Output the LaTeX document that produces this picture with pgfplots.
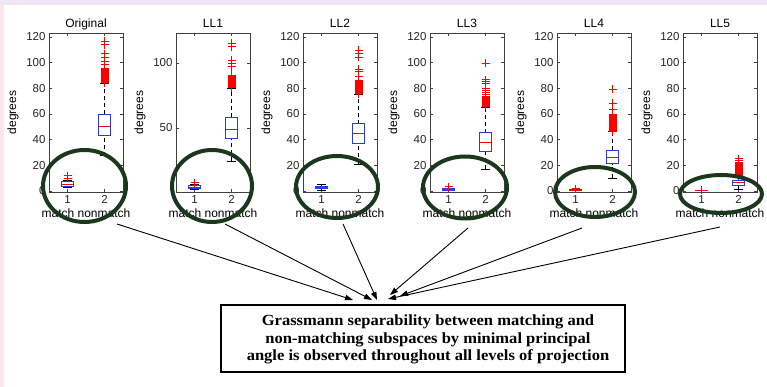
\documentclass[border=0pt]{standalone}
\usepackage{pgfplots}
\pgfplotsset{compat=1.18}
\usepgfplotslibrary{statistics}
\usetikzlibrary{arrows.meta}
\usepackage{fontspec}
\setmainfont{Liberation Sans}
\newfontfamily\serifbold{Liberation Serif}

\definecolor{boxblue}{RGB}{40,60,230}
\definecolor{ellgreen}{RGB}{28,56,28}
\definecolor{lav}{RGB}{236,230,245}
\definecolor{pinkish}{RGB}{252,230,236}

\pgfplotsset{
  mypanel/.style={
    scale only axis, width=74pt, height=159pt,
    xmin=0.5, xmax=2.5, ymin=-1, ymax=123,
    xtick={1,2}, ytick={0,20,...,120},
    tick align=inside, major tick length=3pt,
    axis line style={black!75, line width=0.5pt},
    every tick/.style={black!75},
    tick label style={font=\fontsize{11.5}{12}\selectfont, text=black!85},
    /pgf/number format/assume math mode=true,
    title style={font=\fontsize{12}{13}\selectfont, at={(0.5,1)}, anchor=base, yshift=-1pt},
    xlabel={match nonmatch},
    xlabel style={font=\fontsize{12}{13}\selectfont, at={(axis description cs:0.5,0)}, anchor=center, yshift=-21pt},
    ylabel={degrees},
    ylabel style={font=\fontsize{12}{13}\selectfont, at={(axis description cs:-0.486,0.5)}, anchor=center},
    boxplot/draw direction=y,
    boxplot/box extend=0.32,
    boxplot/whisker extend=0.24,
    boxplot/draw/box/.code={%
      \draw[boxblue, line width=0.8pt] (boxplot box cs:\pgfplotsboxplotvalue{lower quartile},0) rectangle (boxplot box cs:\pgfplotsboxplotvalue{upper quartile},1);
    },
    boxplot/draw/median/.code={%
      \draw[red, line width=0.7pt] (boxplot box cs:\pgfplotsboxplotvalue{median},0) -- (boxplot box cs:\pgfplotsboxplotvalue{median},1);
    },
    boxplot/draw/lower whisker/.code={%
      \draw[black, line width=0.6pt] (boxplot whisker cs:\pgfplotsboxplotvalue{lower whisker},0) -- (boxplot whisker cs:\pgfplotsboxplotvalue{lower whisker},1);
      \draw[black, line width=0.7pt, dash pattern=on 4pt off 3pt] (boxplot cs:\pgfplotsboxplotvalue{lower whisker}) -- (boxplot cs:\pgfplotsboxplotvalue{lower quartile});
    },
    boxplot/draw/upper whisker/.code={%
      \draw[black, line width=0.6pt] (boxplot whisker cs:\pgfplotsboxplotvalue{upper whisker},0) -- (boxplot whisker cs:\pgfplotsboxplotvalue{upper whisker},1);
      \draw[black, line width=0.7pt, dash pattern=on 4pt off 3pt] (boxplot cs:\pgfplotsboxplotvalue{upper quartile}) -- (boxplot cs:\pgfplotsboxplotvalue{upper whisker});
    },
  },
  outl/.style={color=boxblue, mark=+, mark size=4pt, mark options={red, line width=0.7pt, solid}},
}

\begin{document}
\begin{tikzpicture}
\useasboundingbox (0pt,0pt) rectangle (767pt,387pt);
\fill[white] (0pt,0pt) rectangle (767pt,387pt);
\fill[lav] (0pt,382pt) rectangle (767pt,387pt);
\fill[pinkish] (0pt,0pt) rectangle (4pt,382pt);

% ---------- Original ----------
\begin{axis}[mypanel, at={(49pt,195pt)}, anchor=south west, title={Original}]
\addplot[outl, boxplot prepared={draw position=1, lower whisker=2.6, lower quartile=3.6, median=5, upper quartile=7, upper whisker=8.5}]
  table[row sep=\\, y index=0] {data\\ 9.6\\ 11.6\\};
\addplot[outl, boxplot prepared={draw position=2, lower whisker=27.3, lower quartile=43.4, median=50.5, upper quartile=59.6, upper whisker=83.5}]
  table[row sep=\\, y index=0] {data\\ 84.2\\ 84.8\\ 85.4\\ 86.0\\ 86.6\\ 87.2\\ 87.8\\ 88.4\\ 89.0\\ 89.6\\ 90.2\\ 90.8\\ 91.4\\ 92.0\\ 92.6\\ 93.2\\ 93.8\\ 94.4\\ 95.0\\ 95.6\\ 98.5\\ 101\\ 104\\ 107\\ 114\\ 116.4\\};
\end{axis}

% ---------- LL1 ----------
\begin{axis}[mypanel, at={(176pt,195pt)}, anchor=south west, title={LL1}, ymin=0.8, ymax=123, ytick={50,100}]
\addplot[outl, boxplot prepared={draw position=1, lower whisker=2.5, lower quartile=3.3, median=4.3, upper quartile=5.5, upper whisker=6.5}]
  table[row sep=\\, y index=0] {data\\ 7.9\\};
\addplot[outl, boxplot prepared={draw position=2, lower whisker=24.6, lower quartile=42.2, median=49, upper quartile=58.4, upper whisker=80.5}]
  table[row sep=\\, y index=0] {data\\ 81.0\\ 81.6\\ 82.2\\ 82.8\\ 83.4\\ 84.0\\ 84.6\\ 85.2\\ 85.8\\ 86.4\\ 87.0\\ 87.6\\ 88.2\\ 88.8\\ 89.4\\ 90.0\\ 90.6\\ 97\\ 99.8\\ 102\\ 112.5\\ 115\\};
\end{axis}

% ---------- LL2 ----------
\begin{axis}[mypanel, at={(303pt,195pt)}, anchor=south west, title={LL2}]
\addplot[outl, boxplot prepared={draw position=1, lower whisker=0.5, lower quartile=1.5, median=2.5, upper quartile=3.5, upper whisker=5}]
  coordinates {};
\addplot[outl, boxplot prepared={draw position=2, lower whisker=20.7, lower quartile=37, median=44.4, upper quartile=52.4, upper whisker=75}]
  table[row sep=\\, y index=0] {data\\ 75.6\\ 76.2\\ 76.8\\ 77.4\\ 78.0\\ 78.6\\ 79.2\\ 79.8\\ 80.4\\ 81.0\\ 81.6\\ 82.2\\ 82.8\\ 83.4\\ 84.0\\ 84.6\\ 85.2\\ 85.8\\ 86.4\\ 89\\ 93\\ 94.8\\ 104\\ 107.2\\ 109.8\\};
\end{axis}

% ---------- LL3 ----------
\begin{axis}[mypanel, at={(430pt,195pt)}, anchor=south west, title={LL3}]
\addplot[outl, boxplot prepared={draw position=1, lower whisker=0.2, lower quartile=0.6, median=1, upper quartile=1.5, upper whisker=2.2}]
  table[row sep=\\, y index=0] {data\\ 3.1\\};
\addplot[outl, boxplot prepared={draw position=2, lower whisker=16.8, lower quartile=31, median=37.5, upper quartile=45.2, upper whisker=65}]
  table[row sep=\\, y index=0] {data\\ 66.0\\ 66.6\\ 67.2\\ 67.8\\ 68.4\\ 69.0\\ 69.6\\ 70.2\\ 70.8\\ 71.4\\ 72.0\\ 72.6\\ 73.2\\ 73.8\\ 75.5\\ 77\\ 78.5\\ 80\\ 84\\ 85\\ 86.5\\ 99.5\\};
\end{axis}

% ---------- LL4 ----------
\begin{axis}[mypanel, at={(557pt,195pt)}, anchor=south west, title={LL4}]
\addplot[outl, boxplot prepared={draw position=1, lower whisker=0, lower quartile=0.3, median=0.6, upper quartile=0.9, upper whisker=1.2}]
  table[row sep=\\, y index=0] {data\\ 1.5\\};
\addplot[outl, boxplot prepared={draw position=2, lower whisker=9.6, lower quartile=21.2, median=25.9, upper quartile=31.8, upper whisker=46}]
  table[row sep=\\, y index=0] {data\\ 46.6\\ 47.2\\ 47.8\\ 48.4\\ 49.0\\ 49.6\\ 50.2\\ 50.8\\ 51.4\\ 52.0\\ 52.6\\ 53.2\\ 53.8\\ 54.4\\ 55.0\\ 55.6\\ 56.2\\ 56.8\\ 57.4\\ 58.0\\ 58.6\\ 59.2\\ 63.3\\ 68.5\\ 79.4\\};
\end{axis}

% ---------- LL5 ----------
\begin{axis}[mypanel, at={(683pt,195pt)}, anchor=south west, title={LL5}]
\addplot[outl, boxplot prepared={draw position=1, lower whisker=0, lower quartile=0, median=0, upper quartile=0.1, upper whisker=0.2}]
  table[row sep=\\, y index=0] {data\\ 0.3\\};
\addplot[outl, boxplot prepared={draw position=2, lower whisker=0.8, lower quartile=4.4, median=6.5, upper quartile=8.3, upper whisker=11}]
  table[row sep=\\, y index=0] {data\\ 11.6\\ 12.2\\ 12.8\\ 13.4\\ 14.0\\ 14.6\\ 15.2\\ 15.8\\ 16.4\\ 17.0\\ 17.6\\ 18.2\\ 18.8\\ 19.4\\ 20.0\\ 20.6\\ 21.2\\ 21.8\\ 23.4\\ 25\\};
\end{axis}

% ---------- ellipses ----------
\begin{scope}[ellgreen, line width=4pt]
\draw (84.5pt,201pt) ellipse [x radius=41.5pt, y radius=36pt];
\draw (212pt,201pt) ellipse [x radius=40pt, y radius=36pt];
\draw (337pt,200pt) ellipse [x radius=41pt, y radius=31pt];
\draw (465pt,199.5pt) ellipse [x radius=42pt, y radius=31pt];
\draw (595pt,195pt) ellipse [x radius=40pt, y radius=25pt];
\draw (721pt,193pt) ellipse [x radius=41pt, y radius=19pt];
\end{scope}

% ---------- arrows ----------
\begin{scope}[black, line width=0.9pt, -{Triangle[length=8pt, width=5.5pt]}]
\draw (117pt,163pt) -- (353pt,87pt);
\draw (225pt,163pt) -- (372pt,87pt);
\draw (343pt,163pt) -- (377pt,87pt);
\draw (468pt,159pt) -- (390pt,92pt);
\draw (582pt,159pt) -- (400pt,91pt);
\draw (720pt,160pt) -- (388pt,88pt);
\end{scope}

% ---------- text box ----------
\draw[black, line width=2.5pt] (221pt,15pt) rectangle (625pt,82pt);
\node at (428pt,47pt) {\scalebox{1.066}[1]{\serifbold\bfseries\fontsize{15.5}{17.5}\selectfont
  \begin{tabular}{@{}c@{}}
  Grassmann separability between matching and\\
  non-matching subspaces by minimal principal\\
  angle is observed throughout all levels of projection
  \end{tabular}}};
\end{tikzpicture}
\end{document}
